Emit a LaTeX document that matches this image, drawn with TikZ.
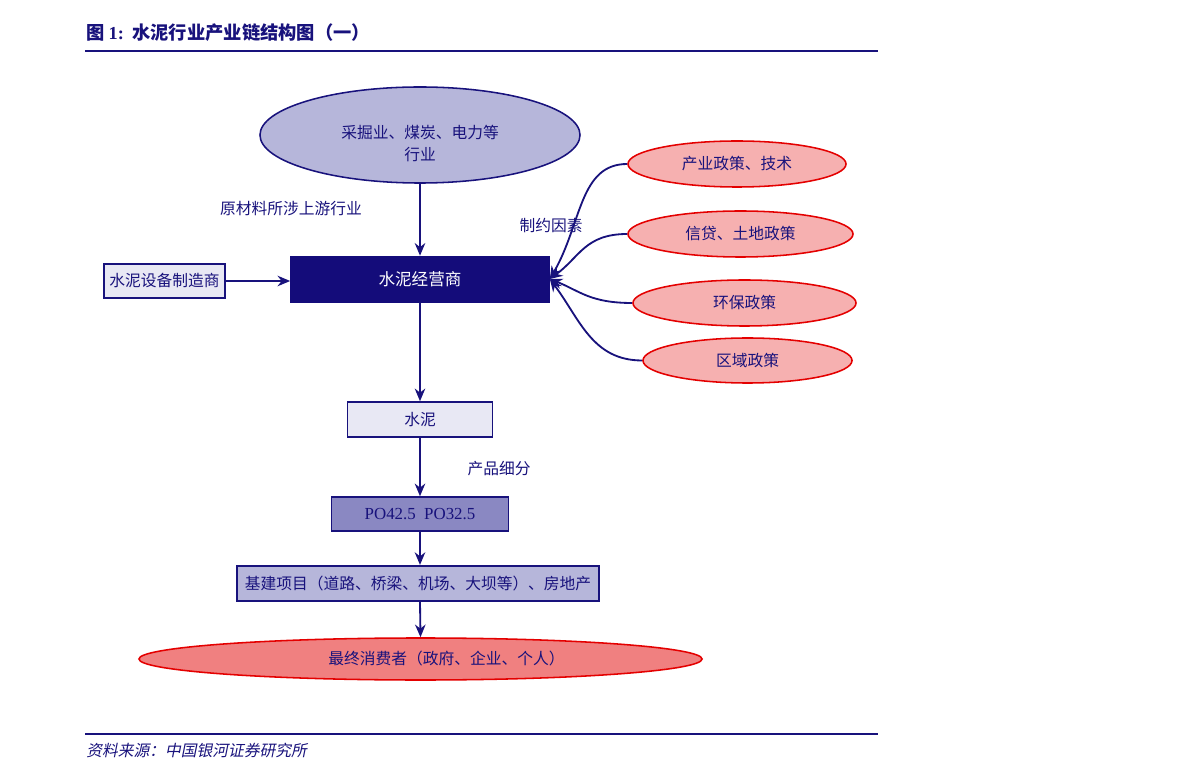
\documentclass[tikz,border=0pt]{standalone}
\usepackage{fontspec}
\setmainfont{Noto Sans CJK SC}
\newfontfamily\latinserif{Liberation Serif}
\newfontfamily\cjkslant[FakeSlant=0.2]{Noto Sans CJK SC}
\usepackage{xcolor}
\usepackage{tikz}
\usetikzlibrary{arrows.meta,positioning,shapes.geometric}
\definecolor{navyline}{RGB}{24,18,124}
\definecolor{navyfill}{RGB}{20,12,122}
\definecolor{lavfill}{RGB}{182,182,218}
\definecolor{palefill}{RGB}{232,232,244}
\definecolor{purplefill}{RGB}{138,136,194}
\definecolor{pinkfill}{RGB}{246,176,176}
\definecolor{coralfill}{RGB}{240,128,128}
\definecolor{redline}{RGB}{228,0,0}
\tikzset{
  ovalblue/.style={
    ellipse,
    draw=navyline,
    line width=1.1pt,
    fill=lavfill,
    inner sep=0pt,
    align=center,
    text=navyline
  },
  ovalred/.style={
    ellipse,
    draw=redline,
    line width=1.1pt,
    fill=pinkfill,
    inner sep=0pt,
    minimum height=1.15cm,
    align=center,
    text=navyline
  },
  boxlight/.style={
    rectangle,
    draw=navyline,
    line width=1.1pt,
    fill=palefill,
    inner sep=0pt,
    align=center,
    text=navyline
  },
  boxdark/.style={
    rectangle,
    draw=navyfill,
    fill=navyfill,
    inner sep=0pt,
    align=center,
    text=white
  },
  tag/.style={
    text=navyline,
    inner sep=0pt
  },
  flow/.style={-{Stealth[length=9pt,width=7.5pt]}, line width=1.3pt, navyline}
}

\begin{document}
\begin{tikzpicture}[x=0.025cm,y=0.025cm,font=\fontsize{11.2}{14}\selectfont]
\useasboundingbox (0,0) rectangle (1191,-780);
% title and rules
\node[tag, anchor=west, font=\fontsize{13}{15}\selectfont\bfseries] (title) at (86,-33) {图 {\latinserif 1:}\ \ 水泥行业产业链结构图（一）};
\draw[navyline, line width=1.6pt] (85,-51) -- (878,-51);
\draw[navyline, line width=1.6pt] (85,-734) -- (878,-734);
\node[tag, anchor=west, font=\fontsize{11.2}{13}\selectfont\cjkslant] (source) at (86,-750) {资料来源：中国银河证券研究所};

% main chain
\node[ovalblue, minimum width=8cm, minimum height=2.4cm, font=\fontsize{11.2}{15.6}\selectfont] (upstream) at (420,-135) {\rule{0pt}{22pt}采掘业、煤炭、电力等\\行业};
\node[boxdark, minimum width=6.475cm, minimum height=1.15cm, font=\fontsize{11.8}{14}\selectfont] (dealer) at (420,-279) {水泥经营商};
\node[boxlight, minimum width=3.025cm, minimum height=0.85cm] (equip) at (164.5,-281) {水泥设备制造商};
\node[boxlight, minimum width=3.625cm, minimum height=0.875cm] (cement) at (420,-419.5) {水泥};
\node[boxlight, fill=purplefill, minimum width=4.425cm, minimum height=0.85cm, font=\fontsize{12}{14}\latinserif] (grade) at (420,-514) {PO42.5\ \ PO32.5};
\node[boxlight, fill=lavfill, line width=1.5pt, minimum width=9.05cm, minimum height=0.875cm] (build) at (418,-583.5) {基建项目（道路、桥梁、机场、大坝等）、房地产};
\node[ovalblue, draw=redline, fill=coralfill, minimum width=14.075cm, minimum height=1.05cm] (consumer) at (420.5,-659) {\hspace*{1.3cm}最终消费者（政府、企业、个人）};

% policy factors
\node[ovalred, minimum width=5.45cm] (pol1) at (737,-164) {产业政策、技术};
\node[ovalred, minimum width=5.625cm] (pol2) at (740.5,-234) {信贷、土地政策};
\node[ovalred, minimum width=5.575cm] (pol3) at (744.5,-303) {环保政策};
\node[ovalred, minimum width=5.225cm, minimum height=1.125cm] (pol4) at (747.5,-360.5) {区域政策};

% labels
\node[tag] (rawlbl) at (291,-209) {原材料所涉上游行业};
\node[tag] (limitlbl) at (551,-226) {制约因素};
\node[tag] (splitlbl) at (499,-469) {产品细分};

% connectors
\draw[flow] (upstream.south) -- (dealer.north);
\draw[flow] (equip.east) -- (equip.east -| dealer.west);
\draw[flow] (dealer.south) -- (cement.north);
\draw[flow] (cement.south) -- (grade.north);
\draw[flow] (grade.south) -- (grade.south |- build.north);
\draw[flow] (grade.south |- build.south) -- (consumer.north);
\draw[flow] (pol1.west) .. controls +(-48,0) and +(32,55) .. (dealer.east);
\draw[flow] (pol2.west) .. controls +(-42,0) and +(30,22) .. (dealer.east);
\draw[flow] (pol3.west) .. controls +(-42,0) and +(30,-12) .. (dealer.east);
\draw[flow] (pol4.west) .. controls +(-50,0) and +(30,-40) .. (dealer.east);
\end{tikzpicture}
\end{document}
